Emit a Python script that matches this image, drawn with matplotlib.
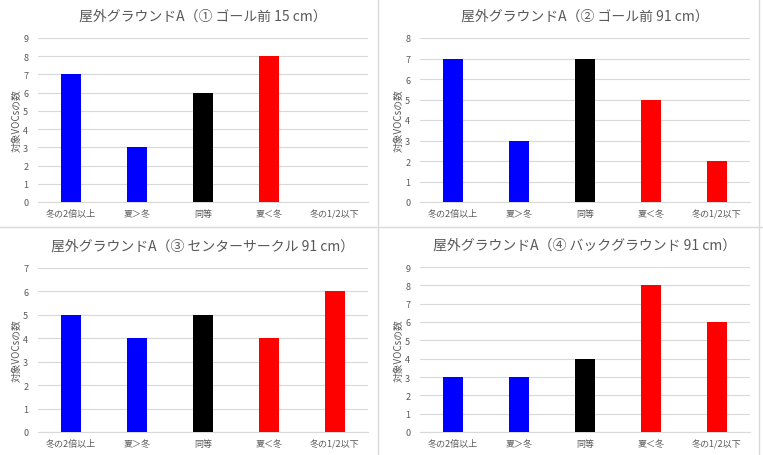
import numpy as np
import matplotlib.pyplot as plt

plt.rcParams['font.family'] = ['Noto Sans CJK JP', 'DejaVu Sans']

categories = ['冬の2倍以上', '夏＞冬', '同等', '夏＜冬', '冬の1/2以下']
bar_colors = ['#0000ff', '#0000ff', '#000000', '#ff0000', '#ff0000']

titles = ['屋外グラウンドA（① ゴール前 15 cm）',
          '屋外グラウンドA（② ゴール前 91 cm）',
          '屋外グラウンドA（③ センターサークル 91 cm）',
          '屋外グラウンドA（④ バックグラウンド 91 cm）']
counts_1 = [7, 3, 6, 8, 0]
counts_2 = [7, 3, 7, 5, 2]
counts_3 = [5, 4, 5, 4, 6]
counts_4 = [3, 3, 4, 8, 6]
ymax = [9, 8, 7, 9]

W, H = 763, 456
fig = plt.figure(figsize=(W / 100, H / 100), dpi=100)

# axes boxes in pixels: left, top, right, bottom
boxes = [(38, 39, 368, 203), (420, 39, 750, 203),
         (38, 269, 368, 433), (420, 268, 750, 433)]
all_counts = [counts_1, counts_2, counts_3, counts_4]
txt = '#595959'

for i in range(4):
    l, t, r, b = boxes[i]
    ax = fig.add_axes([l / W, 1 - b / H, (r - l) / W, (b - t) / H])
    x = np.arange(len(categories))
    ax.bar(x, all_counts[i], width=0.3, color=bar_colors, zorder=3)
    ax.set_xlim(-0.5, len(categories) - 0.5)
    ax.set_ylim(0, ymax[i])
    ax.set_yticks(range(ymax[i] + 1))
    ax.set_xticks(x)
    ax.set_xticklabels(categories)
    ax.tick_params(length=0, labelsize=6.5, colors=txt, pad=5)
    ax.tick_params(axis='y', pad=7)
    ax.grid(axis='y', color='#d9d9d9', linewidth=0.8, zorder=0)
    for s in ['top', 'right', 'left']:
        ax.spines[s].set_visible(False)
    ax.spines['bottom'].set_color('#d9d9d9')
    ax.set_ylabel('対象VOCsの数', fontsize=7, color=txt, labelpad=1)
    ax.set_title(titles[i], fontsize=10, color=txt, pad=13)

# panel dividers
fig.add_artist(plt.Line2D([378 / W, 378 / W], [0, 1], color='#d9d9d9', lw=1))
fig.add_artist(plt.Line2D([759 / W, 759 / W], [0, 1], color='#d9d9d9', lw=1))
fig.add_artist(plt.Line2D([0, 1], [1 - 228 / H, 1 - 228 / H], color='#d9d9d9', lw=1))

fig.savefig('out.png', dpi=100)
